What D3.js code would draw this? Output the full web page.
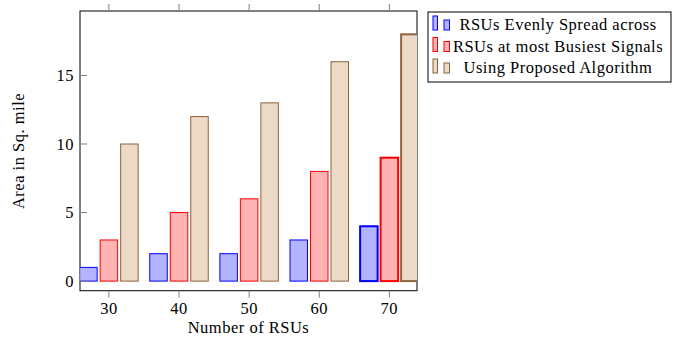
<!DOCTYPE html>
<html>
<head>
<meta charset="utf-8">
<script src="https://cdn.jsdelivr.net/npm/d3@7"></script>
<style>
  body { margin: 0; background: #fff; }
  text { font-family: "Liberation Serif", "Times New Roman", serif; font-size: 16.5px; letter-spacing: 0.5px; }
</style>
</head>
<body>
<script>
// chart data
const rsuCounts = [30, 40, 50, 60, 70];
const seriesNames = ['RSUs Evenly Spread across', 'RSUs at most Busiest Signals', 'Using Proposed Algorithm'];
const evenlySpread = [1, 2, 2, 3, 4];
const busiestSignals = [3, 5, 6, 8, 9];
const proposedAlgo = [10, 12, 13, 16, 18];
const yTicks = [0, 5, 10, 15];

const fills = ['#b3b3ff', '#ffb3b3', '#ecd9c6'];
const strokes = ['#0000ff', '#ff0000', '#8c6440'];

const width = 677, height = 337;
const plot = { left: 80, right: 417, top: 11, bottom: 290.7 };

const x = d3.scaleLinear().domain([25.88, 73.94]).range([plot.left, plot.right]);
const y = d3.scaleLinear().domain([-0.7, 19.7]).range([plot.bottom, plot.top]);
const inner = d3.scaleBand().domain(d3.range(3)).range([-29.25, 29.25]).paddingInner(0.146);

const svg = d3.select('body').append('svg')
    .attr('width', width)
    .attr('height', height);

svg.append('defs').append('clipPath').attr('id', 'clip')
  .append('rect')
    .attr('x', plot.left).attr('y', 0)
    .attr('width', plot.right - plot.left).attr('height', plot.bottom);

// frame
svg.append('rect')
    .attr('x', plot.left).attr('y', plot.top)
    .attr('width', plot.right - plot.left).attr('height', plot.bottom - plot.top)
    .attr('fill', 'none').attr('stroke', '#000').attr('stroke-width', 1);

// bars
const series = [evenlySpread, busiestSignals, proposedAlgo];
const rows = [];
rsuCounts.forEach((c, i) => series.forEach((s, k) => rows.push({ c, k, v: s[i], last: i === rsuCounts.length - 1 })));

svg.append('g').attr('clip-path', 'url(#clip)')
  .selectAll('rect')
  .data(rows)
  .join('rect')
    .attr('x', d => x(d.c) + inner(d.k))
    .attr('width', inner.bandwidth())
    .attr('y', d => y(d.v))
    .attr('height', d => y(0) - y(d.v))
    .attr('fill', d => fills[d.k])
    .attr('stroke', d => strokes[d.k])
    .attr('stroke-width', d => d.last ? 2 : 1);

// x ticks: outward, top and bottom
const tickCol = '#808080';
svg.append('g').selectAll('line.b').data(rsuCounts).join('line')
    .attr('x1', d => x(d)).attr('x2', d => x(d))
    .attr('y1', plot.bottom).attr('y2', plot.bottom + 7)
    .attr('stroke', tickCol);
svg.append('g').selectAll('line.t').data(rsuCounts).join('line')
    .attr('x1', d => x(d)).attr('x2', d => x(d))
    .attr('y1', plot.top - 7).attr('y2', plot.top)
    .attr('stroke', tickCol);
svg.append('g').selectAll('text').data(rsuCounts).join('text')
    .attr('x', d => x(d)).attr('y', 314)
    .attr('text-anchor', 'middle')
    .text(d => d);

// y ticks: inward on left
svg.append('g').selectAll('line').data(yTicks).join('line')
    .attr('x1', plot.left).attr('x2', plot.left + 7)
    .attr('y1', d => y(d)).attr('y2', d => y(d))
    .attr('stroke', tickCol);
svg.append('g').selectAll('text').data(yTicks).join('text')
    .attr('x', 74).attr('y', d => y(d)).attr('dy', '0.34em')
    .attr('text-anchor', 'end')
    .text(d => d);

// axis labels
svg.append('text')
    .attr('x', (plot.left + plot.right) / 2).attr('y', 333)
    .attr('text-anchor', 'middle')
    .text('Number of RSUs');
svg.append('text')
    .attr('transform', 'translate(24,151) rotate(-90)')
    .attr('text-anchor', 'middle')
    .text('Area in Sq. mile');

// legend
const lg = svg.append('g');
lg.append('rect')
    .attr('x', 428).attr('y', 12).attr('width', 243).attr('height', 70)
    .attr('fill', '#fff').attr('stroke', '#000');
seriesNames.forEach((name, k) => {
    const base = 30 + k * 21.5;
    lg.append('rect')
        .attr('x', 433).attr('y', base - 14).attr('width', 4.5).attr('height', 14)
        .attr('fill', fills[k]).attr('stroke', strokes[k]);
    lg.append('rect')
        .attr('x', 444).attr('y', base - 10).attr('width', 5.5).attr('height', 10)
        .attr('fill', fills[k]).attr('stroke', strokes[k]);
    lg.append('text')
        .attr('x', 558).attr('y', base)
        .attr('text-anchor', 'middle')
        .text(name);
});
</script>
</body>
</html>
